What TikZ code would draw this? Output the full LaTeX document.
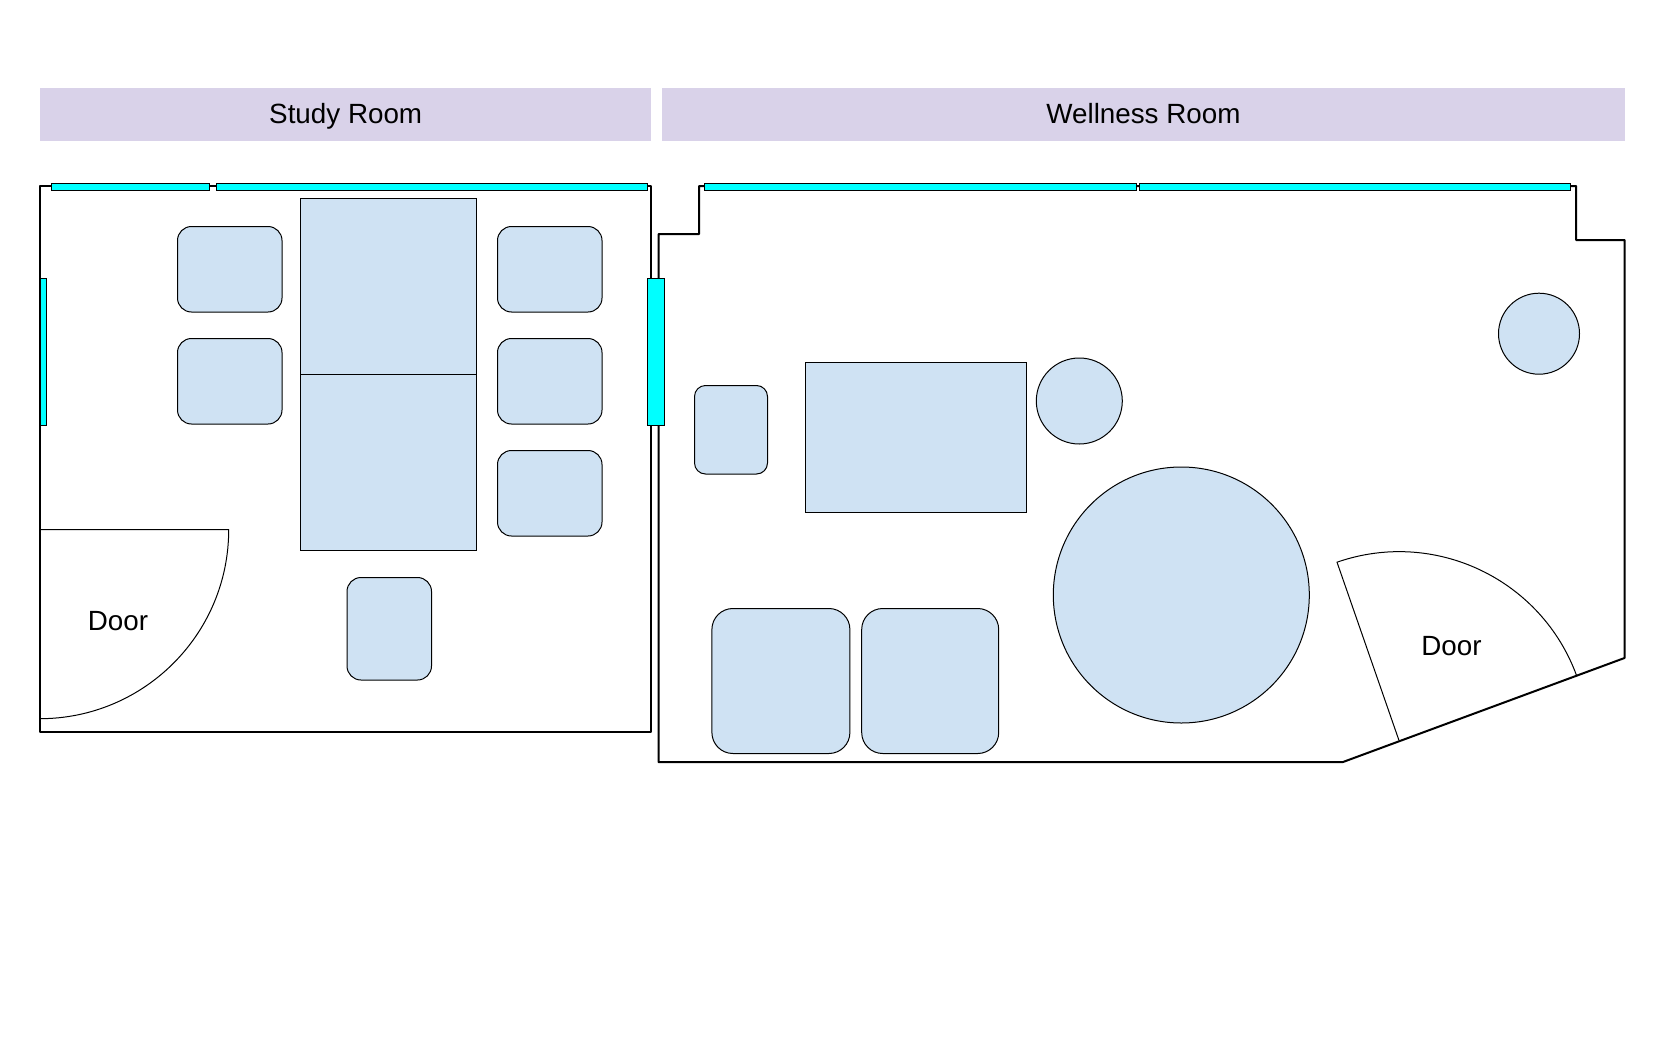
\documentclass[tikz,border=0pt]{standalone}
\usepackage{fontspec}
\setmainfont{Liberation Sans}
\definecolor{headerpurple}{HTML}{D9D2E9}
\definecolor{furnblue}{HTML}{CFE2F3}
\definecolor{glasscyan}{HTML}{00FFFF}
\tikzset{
  wall/.style = {draw, line width=2pt, line join=round},
  header/.style = {rectangle, fill=headerpurple, anchor=north west, inner sep=0pt,
    text height=20pt, text depth=2.4pt, font=\fontsize{27.8}{32}\selectfont},
  glass/.style = {rectangle, draw, line width=1.2pt, fill=glasscyan, anchor=north west, inner sep=0pt},
  tablebox/.style = {rectangle, draw, line width=1pt, fill=furnblue, anchor=north west, inner sep=0pt},
  chair/.style = {tablebox, rounded corners=14pt},
  stool/.style = {circle, draw, line width=1pt, fill=furnblue, inner sep=0pt},
  doorleaf/.style = {draw, line width=1pt},
  doorlabel/.style = {font=\fontsize{27.8}{32}\selectfont, inner sep=0pt}
}
\begin{document}
\begin{tikzpicture}[x=1pt, y=-1pt]
  \useasboundingbox (0,0) rectangle (1670,1057);

  \node[header, minimum width=611pt, minimum height=53pt] (studyhead) at (40,88) {Study Room};
  \node[header, minimum width=962.5pt, minimum height=53pt] (wellhead) at (662,88) {Wellness Room};

  % walls
  \path[wall] (39.7,186) rectangle (650.5,732);
  \path[wall] (704,186) -- (699,186) -- (699,234) -- (658.5,234) -- (658.5,762) -- (1343,762)
    -- (1624.5,658) -- (1624.5,240) -- (1576,240) -- (1576,186) -- cycle;

  % windows
  \node[glass, minimum width=158pt, minimum height=7pt] (winA) at (51,183) {};
  \node[glass, minimum width=431pt, minimum height=7pt] (winB) at (216,183) {};
  \node[glass, minimum width=6.5pt, minimum height=147pt] (winC) at (39.5,278) {};
  \node[glass, minimum width=17pt, minimum height=147pt] (winD) at (647,278) {};
  \node[glass, minimum width=431.5pt, minimum height=7pt] (winE) at (704,183) {};
  \node[glass, minimum width=431pt, minimum height=7pt] (winF) at (1139,183) {};

  % study room
  \node[tablebox, minimum width=176pt, minimum height=176pt] (deskA) at (300,198) {};
  \node[tablebox, minimum width=176pt, minimum height=176pt] (deskB) at (300,373.7) {};
  \foreach \name/\cx/\cy in {seatA/177/226, seatB/177/338, seatC/497/226, seatD/497/338, seatE/497/450}
    \node[chair, minimum width=104.5pt, minimum height=85.5pt] (\name) at (\cx,\cy) {};
  \node[chair, minimum width=84.5pt, minimum height=102.5pt] (seatF) at (346.5,577) {};
  \path[doorleaf] (40,529.7) -- (228.7,529.7) arc[start angle=0, end angle=-90, radius=189pt];
  \node[doorlabel] (doorA) at (118,621) {Door};

  % wellness room
  \node[chair, rounded corners=11pt, minimum width=73pt, minimum height=88.5pt] (seatG) at (694,385) {};
  \node[tablebox, minimum width=221pt, minimum height=149.5pt] (couch) at (805.3,362) {};
  \node[stool, minimum size=86pt] (stoolA) at (1079.3,401) {};
  \node[stool, minimum size=81pt] (stoolB) at (1539,333.7) {};
  \node[stool, minimum size=256pt] (roundtable) at (1181.3,595) {};
  \node[chair, rounded corners=21pt, minimum width=138pt, minimum height=145pt] (seatH) at (711.4,608) {};
  \node[chair, rounded corners=21pt, minimum width=137pt, minimum height=145pt] (seatI) at (861.2,608) {};
  \path[doorleaf] (1399,740.5) -- (1337,562.2) arc[start angle=109.2, end angle=19.9, radius=189pt];
  \node[doorlabel] (doorB) at (1451.5,646.5) {Door};
\end{tikzpicture}
\end{document}
